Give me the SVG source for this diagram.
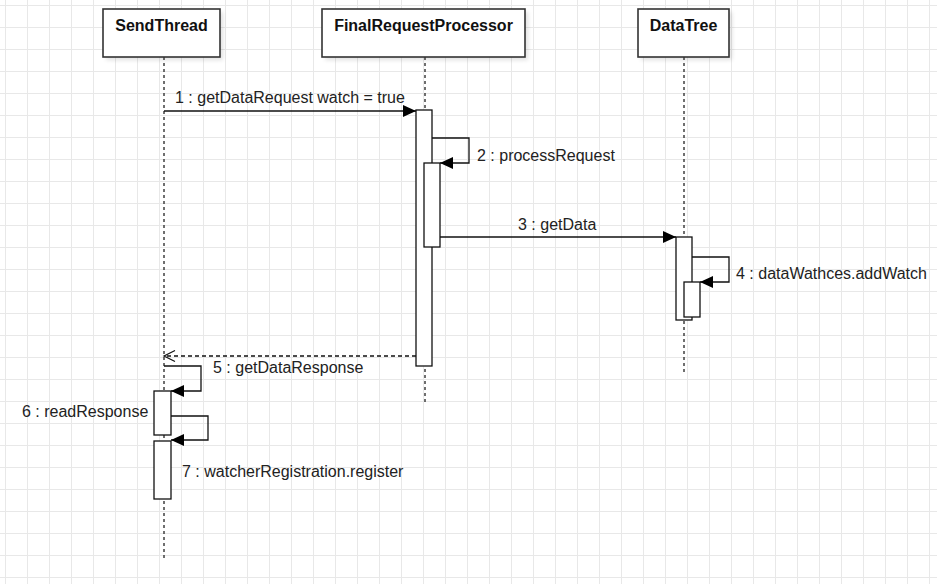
<svg xmlns="http://www.w3.org/2000/svg" width="937" height="584" viewBox="0 0 937 584">
<style>
.hdr{fill:#fff;stroke:#333;stroke-width:1.6}
.hdrtxt{font-family:"Liberation Sans",Arial,sans-serif;font-size:16px;font-weight:bold;fill:#111;text-anchor:middle}
.life{stroke:#333;stroke-width:1.4;stroke-dasharray:3 3;fill:none}
.bar{fill:#fff;stroke:#111;stroke-width:1.3}
.msg{stroke:#111;stroke-width:1.3;fill:none}
.ret{stroke:#111;stroke-width:1.3;fill:none;stroke-dasharray:4 3}
.lbl{font-family:"Liberation Sans",Arial,sans-serif;font-size:16px;fill:#222}
</style>
<defs>
<pattern id="grid" width="22" height="22" patternUnits="userSpaceOnUse" x="5" y="5">
<path d="M0 0.5H22M0.5 0V22" stroke="#e8e8e8" stroke-width="1" fill="none"/>
</pattern>
<filter id="sh" x="-10%" y="-10%" width="130%" height="140%">
<feGaussianBlur stdDeviation="2"/>
</filter>
<marker id="fa" markerUnits="userSpaceOnUse" markerWidth="14" markerHeight="12" refX="13" refY="6" orient="auto">
<path d="M0 0L13 6L0 12Z" fill="#000"/>
</marker>
<marker id="oa" markerUnits="userSpaceOnUse" markerWidth="14" markerHeight="14" refX="12" refY="7" orient="auto">
<path d="M1 1.5L12 7L1 12.5" fill="none" stroke="#111" stroke-width="1.2"/>
</marker>
</defs>
<rect width="937" height="584" fill="#fff"/>
<rect width="937" height="584" fill="url(#grid)"/>

<g id="SendThread">
<rect x="106" y="12" width="117" height="48" fill="#000" opacity="0.12" filter="url(#sh)"/>
<rect class="hdr" x="103" y="9" width="117" height="48"/>
<text class="hdrtxt" x="161.5" y="31">SendThread</text>
<line class="life" x1="164" y1="57" x2="164" y2="560"/>
<rect class="bar" x="154" y="391" width="17" height="44"/>
<rect class="bar" x="154" y="441" width="17" height="58"/>
</g>

<g id="FinalRequestProcessor">
<rect x="325" y="12" width="203" height="48" fill="#000" opacity="0.12" filter="url(#sh)"/>
<rect class="hdr" x="322" y="9" width="203" height="48"/>
<text class="hdrtxt" x="423.5" y="31">FinalRequestProcessor</text>
<line class="life" x1="425" y1="57" x2="425" y2="402"/>
<rect class="bar" x="416" y="110" width="16" height="256"/>
<rect class="bar" x="424" y="163" width="16" height="84"/>
</g>

<g id="DataTree">
<rect x="641" y="12" width="91" height="48" fill="#000" opacity="0.12" filter="url(#sh)"/>
<rect class="hdr" x="638" y="9" width="91" height="48"/>
<text class="hdrtxt" x="683.5" y="31">DataTree</text>
<line class="life" x1="684" y1="57" x2="684" y2="375"/>
<rect class="bar" x="676" y="237" width="16" height="83"/>
<rect class="bar" x="684" y="282" width="16" height="35"/>
</g>

<g id="connectors">
<path class="msg" d="M164 111H416" marker-end="url(#fa)"/>
<text class="lbl" x="175" y="103">1 : getDataRequest watch = true</text>
<path class="msg" d="M432 138H469V163H440" marker-end="url(#fa)"/>
<text class="lbl" x="477" y="161">2 : processRequest</text>
<path class="msg" d="M440 237H676" marker-end="url(#fa)"/>
<text class="lbl" x="518" y="230">3 : getData</text>
<path class="msg" d="M692 257H729V282H700" marker-end="url(#fa)"/>
<text class="lbl" x="736" y="279">4 : dataWathces.addWatch</text>
<path class="ret" d="M416 356H164" marker-end="url(#oa)"/>
<path class="msg" d="M164 366H201V391H171" marker-end="url(#fa)"/>
<text class="lbl" x="213" y="373">5 : getDataResponse</text>
<path class="msg" d="M171 416H208V440H171" marker-end="url(#fa)"/>
<text class="lbl" x="22" y="417">6 : readResponse</text>
<text class="lbl" x="182" y="477">7 : watcherRegistration.register</text>
</g>
</svg>
